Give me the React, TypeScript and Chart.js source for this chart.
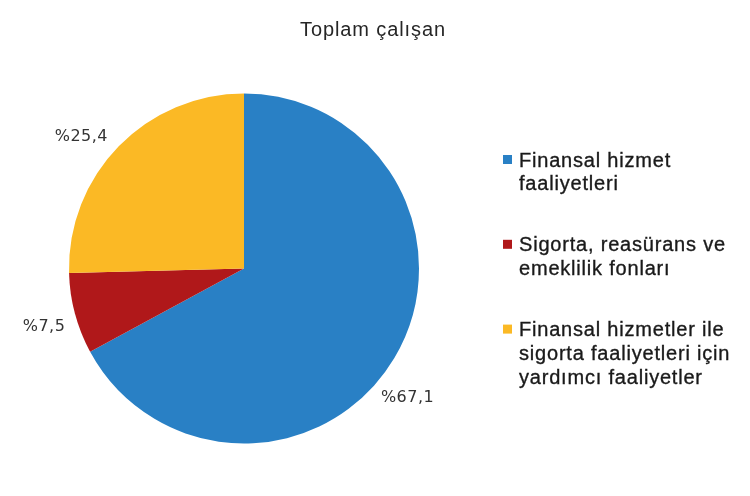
import React, { useEffect, useRef } from "react";
import { Chart, registerables } from "chart.js";

Chart.register(...registerables);

const title = "Toplam çalışan";
const categories = [
  ["Finansal hizmet", "faaliyetleri"],
  ["Sigorta, reasürans ve", "emeklilik fonları"],
  ["Finansal hizmetler ile", "sigorta faaliyetleri için", "yardımcı faaliyetler"],
];
const values = [67.1, 7.5, 25.4];
const valueLabels = ["%67,1", "%7,5", "%25,4"];
const colors = ["#2980C5", "#B0181A", "#FBB925"];

export default function App() {
  const ref = useRef<HTMLCanvasElement | null>(null);

  useEffect(() => {
    document.body.style.margin = "0";
    const canvas = ref.current;
    if (!canvas) return;

    const labelNudge = [
      [-16, 22],
      [2, 4],
      [-13, 14],
    ];

    const heavyText = (ctx: CanvasRenderingContext2D, t: string, x: number, y: number) => {
      ctx.fillText(t, x, y);
      ctx.strokeText(t, x, y);
    };

    const overlay = {
      id: "overlay",
      afterDraw(chart: any) {
        const ctx = chart.ctx as CanvasRenderingContext2D;
        ctx.save();
        ctx.lineWidth = 0.35;
        // title
        ctx.fillStyle = "#262626";
        ctx.font = "20px 'Liberation Sans', Arial, sans-serif";
        (ctx as any).letterSpacing = "0.9px";
        ctx.textAlign = "center";
        ctx.textBaseline = "alphabetic";
        ctx.fillText(title, 373, 36);

        // data labels
        const meta = chart.getDatasetMeta(0);
        ctx.font = "16px 'DejaVu Sans', sans-serif";
        (ctx as any).letterSpacing = "0.5px";
        ctx.fillStyle = "#333333";
        ctx.textAlign = "center";
        ctx.textBaseline = "middle";
        meta.data.forEach((arc: any, i: number) => {
          const p = arc.getProps(["x", "y", "startAngle", "endAngle", "outerRadius"], true);
          const mid = (p.startAngle + p.endAngle) / 2;
          const r = p.outerRadius + 34;
          const x = p.x + Math.cos(mid) * r + labelNudge[i][0];
          const y = p.y + Math.sin(mid) * r + labelNudge[i][1];
          ctx.fillText(valueLabels[i], x, y);
        });

        // legend
        ctx.font = "20px 'Liberation Sans', Arial, sans-serif";
        (ctx as any).letterSpacing = "0.8px";
        ctx.textAlign = "left";
        ctx.textBaseline = "alphabetic";
        categories.forEach((lines, i) => {
          const base = 166.5 + i * 84.8;
          ctx.fillStyle = colors[i];
          ctx.fillRect(503, base - 11.5, 9, 9);
          ctx.fillStyle = "#1a1a1a";
          ctx.strokeStyle = "#1a1a1a";
          lines.forEach((t, j) => {
            heavyText(ctx, t, 519, base + j * 23.7);
          });
        });
        ctx.restore();
      },
    };

    const chart = new Chart(canvas, {
      type: "pie",
      data: {
        labels: categories.map((c) => c.join(" ")),
        datasets: [
          {
            data: values,
            backgroundColor: colors,
            borderWidth: 0,
          },
        ],
      },
      options: {
        responsive: false,
        animation: false,
        layout: {
          padding: { top: 93.5, bottom: 52.5, left: 69, right: 331 },
        },
        plugins: {
          legend: { display: false },
          title: { display: false },
          tooltip: { enabled: false },
        },
      },
      plugins: [overlay],
    });
    return () => chart.destroy();
  }, []);

  return <canvas ref={ref} width={750} height={496} style={{ display: "block" }} />;
}
